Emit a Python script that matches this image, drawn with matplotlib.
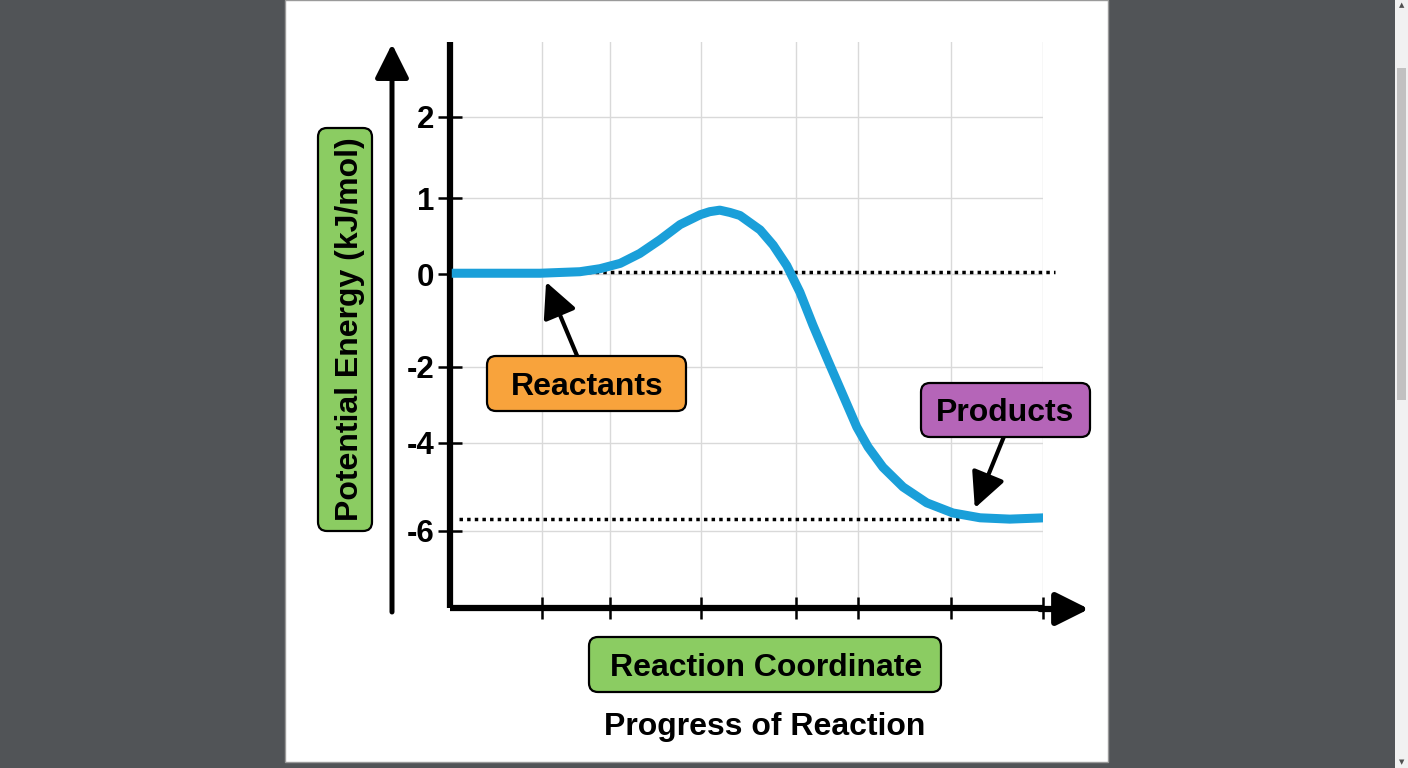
import numpy as np
import matplotlib
matplotlib.use("Agg")
import matplotlib.pyplot as plt
from matplotlib.patches import FancyBboxPatch, Rectangle, FancyArrowPatch
from matplotlib.transforms import IdentityTransform

W, H = 1408, 768
FONT = "Liberation Sans"

# energy profile (progress in arbitrary units, energy in kJ/mol)
progress = [0.03, 0.84, 1.52, 1.85, 2.19, 2.53, 2.87, 3.20, 3.54, 3.88, 4.22, 4.38,
            4.55, 4.72, 4.89, 5.23, 5.45, 5.68, 5.90, 6.12, 6.37, 6.61, 6.86, 7.05,
            7.30, 7.64, 8.04, 8.48, 8.94, 9.44, 10.03]
energy = [0.01, 0.01, 0.01, 0.02, 0.03, 0.07, 0.14, 0.27, 0.45, 0.65, 0.78, 0.82,
          0.84, 0.81, 0.77, 0.58, 0.38, 0.11, -0.39, -1.10, -1.85, -2.68, -3.58, -4.09,
          -4.55, -5.00, -5.36, -5.59, -5.70, -5.73, -5.70]

# dotted reference levels (reactants, products) and their x extents
ref_levels = [0.03, -5.73]
ref_spans = [(0.0, 10.2), (0.15, 8.6)]

y_ticks = [2, 1, 0, -2, -4, -6]
y_ticklabels = ["2", "1", "0", "-2", "-4", "-6"]
x_ticks = [1.55, 2.70, 4.23, 5.83, 6.88, 8.45, 10.0]

# arrow tips of the two callouts (data coords)
reactant_tip = (1.62, -0.17)
product_tip = (8.85, -5.48)

# the energy axis in the picture is not evenly spaced -> piecewise scale
energy_knots = np.array([-7.8, -6, -4, -2, 0, 1, 2, 2.93])
pixel_knots = -np.array([608, 531, 443, 367, 274, 198, 117, 42], dtype=float)


def fwd(v):
    return np.interp(v, energy_knots, pixel_knots)


def inv(p):
    return np.interp(p, pixel_knots, energy_knots)


def px_box(fig, x0, y0, x1, y1, color, z=5):
    # box in image pixels, y measured from the top
    box = FancyBboxPatch((x0, H - y1), x1 - x0, y1 - y0,
                         boxstyle="round,pad=0,rounding_size=9",
                         transform=IdentityTransform(), facecolor=color,
                         edgecolor="black", lw=1.6, zorder=z)
    fig.add_artist(box)


def px_text(fig, cx, cy, s, rot=0, size=23):
    # cy = centre of the capitals
    off = 0.716 * size * 100 / 72 / 2
    if rot == 0:
        x, y = cx, cy + off
    else:
        x, y = cx + off, cy
    fig.text(x / W, 1 - y / H, s, ha="center", va="baseline", rotation=rot,
             rotation_mode="anchor", fontsize=size, fontweight="bold",
             family=FONT, color="black", zorder=6)


fig = plt.figure(figsize=(W / 100, H / 100), dpi=100)
fig.patch.set_facecolor("#515457")

# white page + scrollbar
fig.add_artist(Rectangle((285, H - 762), 823, 762, transform=IdentityTransform(),
                         facecolor="white", edgecolor="#9a9a9a", lw=1, zorder=-5))
fig.add_artist(Rectangle((1395, 0), 13, H, transform=IdentityTransform(),
                         facecolor="#f1f1f1", edgecolor="none", zorder=-5))
fig.add_artist(Rectangle((1397, H - 400), 9, 332, transform=IdentityTransform(),
                         facecolor="#c1c1c1", edgecolor="none", zorder=-4))
fig.text(1402 / W, 1 - 5 / H, "\u25b2", fontsize=5, color="#505050", ha="center", va="center",
         family="DejaVu Sans")
fig.text(1402 / W, 1 - 762 / H, "\u25bc", fontsize=5, color="#505050", ha="center", va="center",
         family="DejaVu Sans")

ax = fig.add_axes([450 / W, 1 - 608 / H, 593 / W, 566 / H])
ax.set_facecolor("none")
ax.set_yscale("function", functions=(fwd, inv))
ax.set_xlim(0, 10)
ax.set_ylim(-7.8, 2.93)

ax.plot(progress, energy, color="#1a9fd9", lw=6.5, solid_capstyle="butt",
        solid_joinstyle="round", zorder=3)
for lvl, (xa, xb) in zip(ref_levels, ref_spans):
    ax.plot([xa, xb], [lvl, lvl], color="black", lw=2.5, ls=(0, (1, 1.2)),
            dash_capstyle="butt", clip_on=False, zorder=2)

ax.set_yticks(y_ticks)
ax.set_yticklabels(y_ticklabels, fontsize=22.5, fontweight="bold", family=FONT)
ax.set_xticks(x_ticks)
ax.set_xticklabels([])
ax.yaxis.set_minor_locator(matplotlib.ticker.NullLocator())
ax.tick_params(axis="y", direction="inout", length=17, width=1.8, pad=3)
ax.tick_params(axis="x", direction="inout", length=16, width=1.8)
ax.grid(True, color="#d9d9d9", lw=1.0)
ax.set_axisbelow(True)
for side in ["top", "right"]:
    ax.spines[side].set_visible(False)
for side in ["left", "bottom"]:
    ax.spines[side].set_linewidth(4.5)
    ax.spines[side].set_capstyle("butt")

# arrow continuing the x axis
ax.annotate("", xy=(1089, H - 609), xytext=(1040, H - 609), xycoords="figure pixels",
            textcoords="figure pixels",
            arrowprops=dict(arrowstyle="-|>,head_length=0.4,head_width=0.2", mutation_scale=50,
                            lw=4.5, color="black", shrinkA=0, shrinkB=0))

# separate energy arrow on the left
fig.add_artist(FancyArrowPatch((392, H - 612), (392, H - 44), transform=IdentityTransform(),
                               arrowstyle="-|>,head_length=0.4,head_width=0.2",
                               mutation_scale=52, lw=3.6, color="black",
                               shrinkA=0, shrinkB=0))

# callout arrows
arrow_kw = dict(arrowstyle="-|>,head_length=0.45,head_width=0.22", mutation_scale=48,
                lw=3, color="black", shrinkA=0, shrinkB=0)
ax.annotate("", xy=reactant_tip, xytext=(578, H - 358), textcoords="figure pixels",
            arrowprops=arrow_kw, annotation_clip=False)
ax.annotate("", xy=product_tip, xytext=(1005, H - 434), textcoords="figure pixels",
            arrowprops=arrow_kw, annotation_clip=False)

# labelled boxes
px_box(fig, 318, 128, 372, 531, "#8bcc62")
px_text(fig, 347, 329.5, "Potential Energy (kJ/mol)", rot=90)

px_box(fig, 589, 637, 941, 692, "#8bcc62")
px_text(fig, 766, 664.5, "Reaction Coordinate")
px_text(fig, 765, 724, "Progress of Reaction")

px_box(fig, 487, 356, 686, 411, "#f8a33c")
px_text(fig, 587, 383.5, "Reactants")

px_box(fig, 921, 383, 1090, 437, "#b565b8")
px_text(fig, 1005, 410, "Products")

fig.savefig("out.png", dpi=100, facecolor=fig.get_facecolor())
